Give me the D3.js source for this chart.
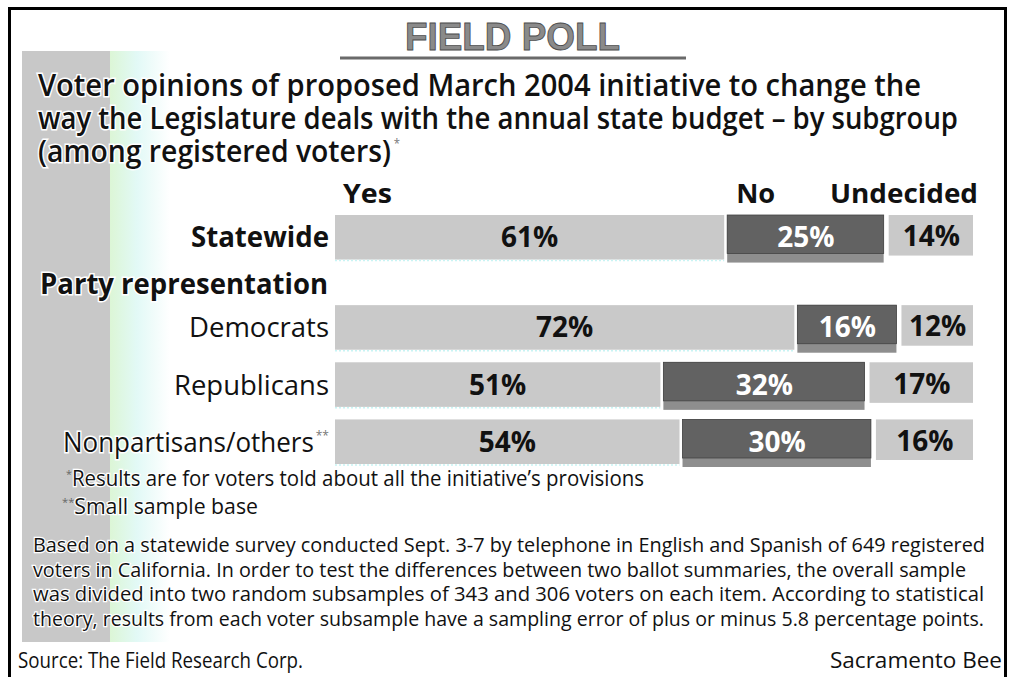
<!DOCTYPE html>
<html>
<head>
<meta charset="utf-8">
<script src="https://cdn.jsdelivr.net/npm/d3@7"></script>
<style>
body { margin: 0; background: #fff; }
svg text { font-family: "Open Sans", sans-serif; }
</style>
</head>
<body>
<div id="chart"></div>
<script>
// data
const groups = ["Statewide", "Democrats", "Republicans", "Nonpartisans/others"]
const yesValues = [61, 72, 51, 54]
const noValues = [25, 16, 32, 30]
const undecidedValues = [14, 12, 17, 16]
const responseLabels = ["Yes", "No", "Undecided"]
const sectionLabel = "Party representation"

const titleText = "FIELD POLL"
const subtitleLines = [
    "Voter opinions of proposed March 2004 initiative to change the",
    "way the Legislature deals with the annual state budget \u2013 by subgroup",
    "(among registered voters)"
]
const footnotes = [
    "Results are for voters told about all the initiative\u2019s provisions",
    "Small sample base"
]
const noteLines = [
    "Based on a statewide survey conducted Sept. 3-7 by telephone in English and Spanish of 649 registered",
    "voters in California. In order to test the differences between two ballot summaries, the overall sample",
    "was divided into two random subsamples of 343 and 306 voters on each item. According to statistical",
    "theory, results from each voter subsample have a sampling error of plus or minus 5.8 percentage points."
]
const sourceText = "Source: The Field Research Corp."
const creditText = "Sacramento Bee"

const W = 1011, H = 677
const lightGray = "#c9c9c9", darkGray = "#626262", stripGray = "#8e8e8e"

const svg = d3.select("#chart").append("svg")
    .attr("width", W)
    .attr("height", H)

function fit(sel, w) {
    return sel.attr("textLength", w).attr("lengthAdjust", "spacingAndGlyphs")
}

// left decorative band
const defs = svg.append("defs")
const grad = defs.append("linearGradient").attr("id", "fade")
grad.append("stop").attr("offset", "0%").attr("stop-color", "#dcf6d6")
grad.append("stop").attr("offset", "45%").attr("stop-color", "#e2f9f6")
grad.append("stop").attr("offset", "100%").attr("stop-color", "#ffffff")
svg.append("rect").attr("x", 22).attr("y", 51).attr("width", 88).attr("height", 591)
    .attr("fill", "#c8c8c8")
svg.append("rect").attr("x", 110).attr("y", 51).attr("width", 60).attr("height", 591)
    .attr("fill", "url(#fade)")

// frame
svg.append("path")
    .attr("d", "M9.5," + H + "V8.5H1005.5V" + H)
    .attr("fill", "none")
    .attr("stroke", "#000")
    .attr("stroke-width", 3)

// title
fit(svg.append("text")
    .attr("x", 405).attr("y", 50)
    .style("font-family", "'Liberation Sans Narrow', sans-serif")
    .style("font-weight", "bold")
    .style("font-size", "39px")
    .attr("fill", "#8a8a8a")
    .attr("stroke", "#4d4d4d")
    .attr("stroke-width", 0.9)
    .text(titleText), 215)
svg.append("line")
    .attr("x1", 340).attr("x2", 686).attr("y1", 58).attr("y2", 58)
    .attr("stroke", "#6a6a6a").attr("stroke-width", 3)

// subtitle
const subWidths = [883, 920, 362]
subtitleLines.forEach(function (t, i) {
    const st = fit(svg.append("text")
        .attr("x", 38).attr("y", 96 + i * 33)
        .style("font-size", "30px")
        .style("font-weight", 600)
        .attr("fill", "#111")
        .attr("stroke", "#fff").attr("stroke-width", 3)
        .attr("paint-order", "stroke")
        .text(t), subWidths[i])
    if (i === subtitleLines.length - 1) {
        st.append("tspan")
            .attr("dx", 3).attr("dy", -14)
            .style("font-size", "12px").style("font-weight", 400)
            .attr("fill", "#777")
            .text("*")
    }
})

// scales
const x = d3.scaleLinear().domain([0, 100]).range([335, 973])
const y = d3.scaleBand().domain(groups).range([215, 431]).paddingInner(0.22)
const sectionGap = 33
function rowTop(g) { return y(g) + (g === groups[0] ? 0 : sectionGap) }

const rows = groups.map(function (g, i) {
    return {group: g, yes: yesValues[i], no: noValues[i], und: undecidedValues[i]}
})

// column headers, tied to the statewide row
const hy = 203
fit(svg.append("text").attr("x", x(0) + 8).attr("y", hy)
    .style("font-size", "27px").style("font-weight", 700).attr("fill", "#111")
    .text(responseLabels[0]), 49)
fit(svg.append("text").attr("x", x(rows[0].yes) + 12).attr("y", hy)
    .style("font-size", "27px").style("font-weight", 700).attr("fill", "#111")
    .text(responseLabels[1]), 39)
fit(svg.append("text").attr("x", x(100) + 5).attr("y", hy)
    .attr("text-anchor", "end")
    .style("font-size", "27px").style("font-weight", 700).attr("fill", "#111")
    .text(responseLabels[2]), 148)

// bars
const bh = y.bandwidth()
const rowG = svg.selectAll("g.row").data(rows).enter().append("g")
    .attr("class", "row")
    .attr("transform", function (d) { return "translate(0," + rowTop(d.group) + ")" })

rowG.append("rect")
    .attr("x", x(0))
    .attr("width", function (d) { return x(d.yes) - x(0) })
    .attr("height", bh)
    .attr("fill", lightGray)
rowG.append("line")
    .attr("x1", x(0))
    .attr("x2", function (d) { return x(d.yes) })
    .attr("y1", bh + 1).attr("y2", bh + 1)
    .attr("stroke", "#c8f4f4").attr("stroke-width", 1.5)
    .attr("stroke-dasharray", "2,2")

rowG.append("rect")
    .attr("x", function (d) { return x(d.yes) + 3 })
    .attr("width", function (d) { return x(d.yes + d.no) - x(d.yes) - 3 })
    .attr("height", bh + 3)
    .attr("fill", stripGray)
rowG.append("rect")
    .attr("x", function (d) { return x(d.yes) + 3 })
    .attr("width", function (d) { return x(d.yes + d.no) - x(d.yes) - 3 })
    .attr("height", bh - 6)
    .attr("fill", darkGray)
    .attr("stroke", "#444").attr("stroke-width", 0.8)

rowG.append("rect")
    .attr("x", function (d) { return x(d.yes + d.no) + 5 })
    .attr("width", function (d) { return x(100) - x(d.yes + d.no) - 5 })
    .attr("y", 0)
    .attr("height", bh - 4)
    .attr("fill", lightGray)

const lblSize = "28px"
rowG.append("text")
    .attr("x", function (d) { return (x(0) + x(d.yes)) / 2 })
    .attr("y", bh / 2 + 10)
    .attr("text-anchor", "middle")
    .style("font-size", lblSize).style("font-weight", 700)
    .attr("fill", "#111")
    .text(function (d) { return d.yes + "%" })
rowG.append("text")
    .attr("x", function (d) { return (x(d.yes) + x(d.yes + d.no)) / 2 + 2 })
    .attr("y", bh / 2 + 10)
    .attr("text-anchor", "middle")
    .style("font-size", lblSize).style("font-weight", 700)
    .attr("fill", "#fff")
    .text(function (d) { return d.no + "%" })
rowG.append("text")
    .attr("x", function (d) { return (x(d.yes + d.no) + x(100)) / 2 + 3 })
    .attr("y", bh / 2 + 9)
    .attr("text-anchor", "middle")
    .style("font-size", lblSize).style("font-weight", 700)
    .attr("fill", "#111")
    .text(function (d) { return d.und + "%" })

// row labels (the small-sample group carries a ** mark)
const labelWidths = [138, 140, 155, 266]
rowG.append("text")
    .attr("x", 329)
    .attr("y", bh / 2 + 10)
    .attr("text-anchor", "end")
    .attr("textLength", function (d, i) { return labelWidths[i] })
    .attr("lengthAdjust", "spacingAndGlyphs")
    .style("font-size", "28px")
    .style("font-weight", function (d, i) { return i === 0 ? 700 : 400 })
    .attr("fill", "#111")
    .attr("stroke", "#fff").attr("stroke-width", 3).attr("paint-order", "stroke")
    .each(function (d, i) {
        const t = d3.select(this)
        t.append("tspan").text(d.group)
        if (i === groups.length - 1) {
            t.append("tspan")
                .attr("dx", 2).attr("dy", -12)
                .style("font-size", "13px")
                .attr("fill", "#777").attr("stroke-width", 0)
                .text("**")
        }
    })

fit(svg.append("text")
    .attr("x", 328).attr("y", 294)
    .attr("text-anchor", "end")
    .style("font-size", "28px").style("font-weight", 700)
    .attr("fill", "#111")
    .attr("stroke", "#fff").attr("stroke-width", 3).attr("paint-order", "stroke")
    .text(sectionLabel), 288)

// footnotes
const fnMarks = ["*", "**"]
const fnWidths = [578, 196]
footnotes.forEach(function (t, i) {
    const ft = fit(svg.append("text")
        .attr("x", 66 - i * 4).attr("y", 486 + i * 28)
        .style("font-size", "21px")
        .attr("fill", "#111")
        .attr("stroke", "#fff").attr("stroke-width", 2.5).attr("paint-order", "stroke"), fnWidths[i])
    ft.append("tspan")
        .attr("dy", -8)
        .style("font-size", "11px").attr("fill", "#666").attr("stroke-width", 0)
        .text(fnMarks[i])
    ft.append("tspan")
        .attr("dy", 8)
        .text(t)
})

const noteWidths = [952, 933, 951, 951]
noteLines.forEach(function (t, i) {
    fit(svg.append("text")
        .attr("x", 33).attr("y", 552 + i * 24.5)
        .style("font-size", "20px")
        .attr("fill", "#111")
        .attr("stroke", "#fff").attr("stroke-width", 2.5).attr("paint-order", "stroke")
        .text(t), noteWidths[i])
})

fit(svg.append("text")
    .attr("x", 18).attr("y", 668)
    .style("font-size", "22px").attr("fill", "#111")
    .text(sourceText), 285)
fit(svg.append("text")
    .attr("x", 1002).attr("y", 668)
    .attr("text-anchor", "end")
    .style("font-size", "22px").attr("fill", "#111")
    .text(creditText), 172)
</script>
</body>
</html>
